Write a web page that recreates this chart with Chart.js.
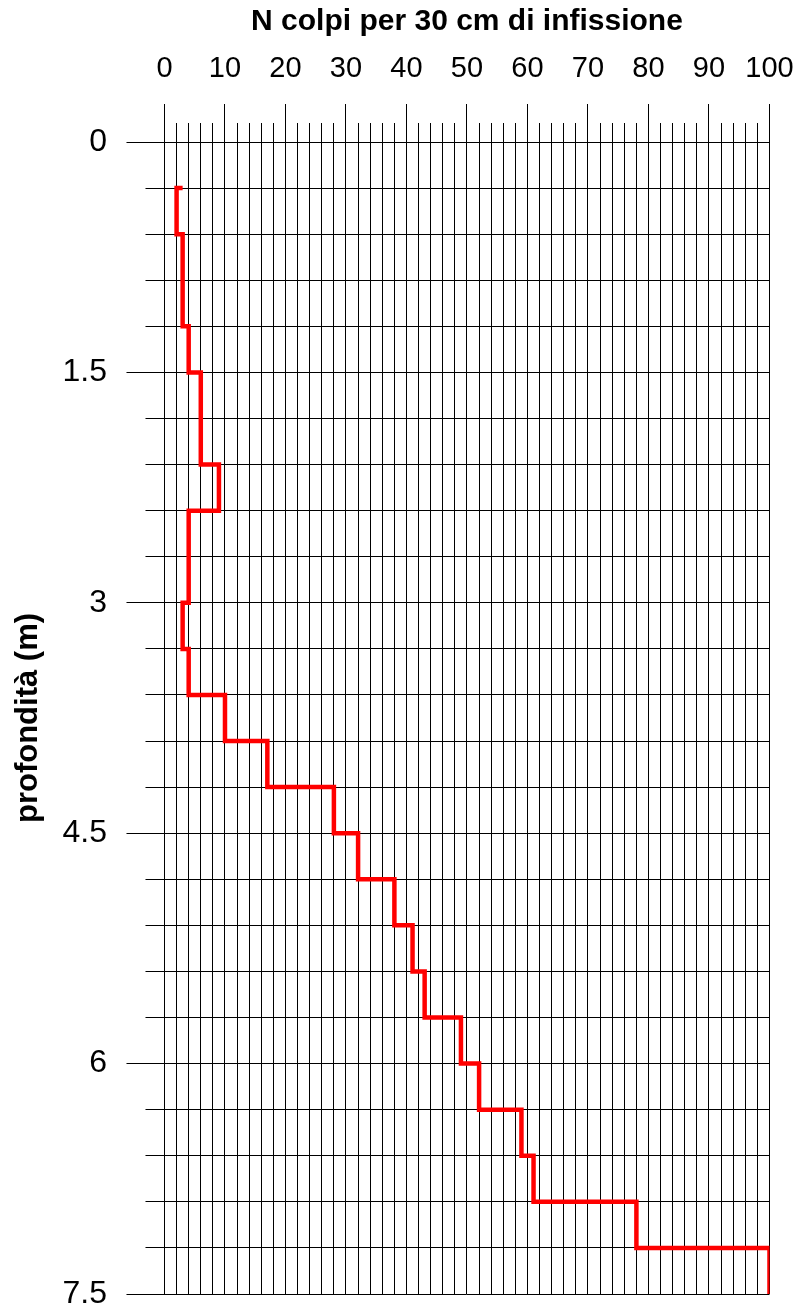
<!DOCTYPE html>
<html lang="it">
<head>
  <meta charset="UTF-8">
  <title>Prova penetrometrica</title>
  <script src="https://cdn.jsdelivr.net/npm/chart.js"></script>
  <style>
    html, body { margin: 0; padding: 0; background: #fff; }
    .wrap { width: 810px; height: 1310px; }
  </style>
</head>
<body>
  <div class="wrap">
    <canvas id="spt"></canvas>
  </div>

  <script>
    // depth (m) at the top of each 30 cm interval
    const depthTop = [0.3, 0.6, 0.9, 1.2, 1.5, 1.8, 2.1, 2.4, 2.7, 3.0, 3.3, 3.6,
                      3.9, 4.2, 4.5, 4.8, 5.1, 5.4, 5.7, 6.0, 6.3, 6.6, 6.9, 7.2];
    // N blows per interval
    const blows = [2, 3, 3, 4, 6, 6, 9, 4, 4, 3, 4, 10,
                   17, 28, 32, 38, 41, 43, 49, 52, 59, 61, 78, 100];
    const interval = 0.3;
    const startBlows = 3;   // short stub where the profile begins

    const xTickLabels = [0, 10, 20, 30, 40, 50, 60, 70, 80, 90, 100];
    const yTickLabels = [0, 1.5, 3, 4.5, 6, 7.5];

    // build the stepped profile: each interval is a vertical run
    const profile = [{ x: startBlows, y: depthTop[0] }];
    blows.forEach((n, i) => {
      profile.push({ x: n, y: depthTop[i] });
      profile.push({ x: n, y: +(depthTop[i] + interval).toFixed(2) });
    });

    const near = (v, list) => list.some(t => Math.abs(t - v) < 1e-6);
    const font = '"Liberation Sans", Arial, Helvetica, sans-serif';

    // tick marks are drawn long and partly hidden with a dash, so that the
    // labels sit clear of them (major ticks 38px, minor ticks 19px)
    new Chart(document.getElementById('spt'), {
      type: 'scatter',
      data: {
        datasets: [{
          data: profile,
          showLine: true,
          borderColor: '#ff0000',
          borderWidth: 4.5,
          borderJoinStyle: 'miter',
          borderCapStyle: 'butt',
          pointRadius: 0,
          pointHoverRadius: 0,
          fill: false
        }]
      },
      options: {
        responsive: true,
        maintainAspectRatio: false,
        animation: false,
        events: [],
        layout: { padding: { left: 13, right: 40.5, top: 6.4, bottom: 15 } },
        plugins: {
          legend: { display: false },
          tooltip: { enabled: false }
        },
        scales: {
          x: {
            type: 'linear',
            position: 'top',
            min: 0,
            max: 100,
            border: { display: false },
            grid: {
              color: '#000',
              lineWidth: 1,
              tickLength: 59,
              tickColor: '#000',
              tickBorderDash: ctx => near(ctx.tick.value, xTickLabels) ? [0, 21, 200] : [0, 40, 200]
            },
            ticks: {
              stepSize: 2,
              autoSkip: false,
              maxRotation: 0,
              minRotation: 0,
              padding: 0,
              color: '#000',
              font: { family: font, size: 29, lineHeight: 1 },
              callback: v => near(v, xTickLabels) ? String(v) : ''
            },
            title: {
              display: true,
              text: 'N colpi per 30 cm di infissione',
              color: '#000',
              font: { family: font, size: 30, weight: 'bold', lineHeight: 1 },
              padding: { top: 0, bottom: 17.6 }
            }
          },
          y: {
            type: 'linear',
            reverse: true,
            min: 0,
            max: 7.5,
            border: { display: false },
            grid: {
              color: '#000',
              lineWidth: 1,
              tickLength: 57.5,
              tickColor: '#000',
              tickBorderDash: ctx => near(ctx.tick.value, yTickLabels) ? [0, 19.5, 200] : [0, 38.5, 200]
            },
            ticks: {
              stepSize: 0.3,
              autoSkip: false,
              padding: 0,
              color: '#000',
              font: { family: font, size: 32, lineHeight: 1 },
              callback: v => near(v, yTickLabels) ? String(v) : ''
            },
            title: {
              display: true,
              text: 'profondità (m)',
              color: '#000',
              font: { family: font, size: 31, weight: 'bold', lineHeight: 1 },
              padding: { top: 0, bottom: 18.5 }
            }
          }
        }
      }
    });
  </script>
</body>
</html>
